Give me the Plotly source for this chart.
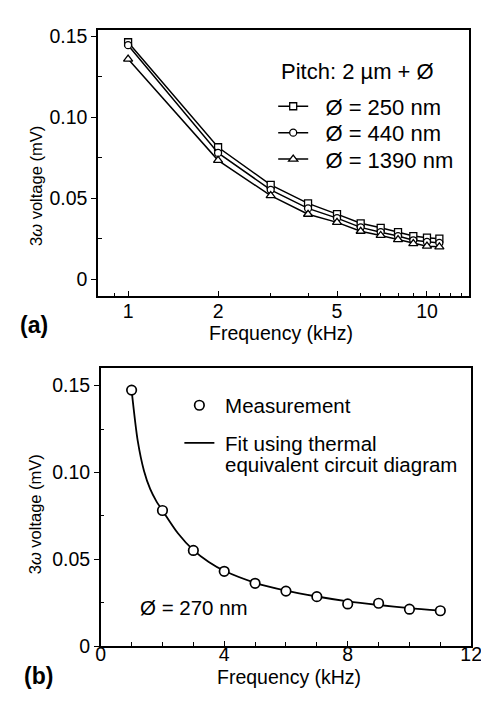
import plotly.graph_objects as go

# ---------------- data ----------------
freq = [1, 2, 3, 4, 5, 6, 7, 8, 9, 10, 11]
v_250 = [0.1464, 0.0815, 0.0583, 0.0468, 0.0402, 0.0345, 0.0317, 0.0290, 0.0266, 0.0256, 0.0250]
v_440 = [0.1446, 0.0780, 0.0552, 0.0437, 0.0377, 0.0320, 0.0290, 0.0266, 0.0240, 0.0230, 0.0224]
v_1390 = [0.1360, 0.0734, 0.0516, 0.0401, 0.0351, 0.0296, 0.0270, 0.0244, 0.0220, 0.0204, 0.0200]

meas_freq = [1, 2, 3, 4, 5, 6, 7, 8, 9, 10, 11]
meas_v = [0.1474, 0.0781, 0.0551, 0.0431, 0.0362, 0.0317, 0.0285, 0.0243, 0.0247, 0.0213, 0.0204]

fit_freq = [1.0, 1.2, 1.4, 1.6, 1.8, 2.0, 2.5, 3.0, 3.5, 4.0, 5.0, 6.0, 7.0, 8.0, 9.0, 10.0, 11.0]
fit_v = [0.1474, 0.1180, 0.1010, 0.0905, 0.0835, 0.0781, 0.0650, 0.0553, 0.0485, 0.0434,
         0.0365, 0.0320, 0.0286, 0.0258, 0.0237, 0.0219, 0.0205]

series_names = ["Ø = 250 nm", "Ø = 440 nm", "Ø = 1390 nm"]
top_xticks = [1, 2, 5, 10]
top_xticktext = ["1", "2", "5", "10"]
top_xminor = [0.9, 3, 4, 6, 7, 8, 9, 11, 12, 13]
y_ticks = [0, 0.05, 0.10, 0.15]
y_ticktext = ["0", "0.05", "0.10", "0.15"]
y_minor = [0.025, 0.075, 0.125]
bot_xticks = [0, 4, 8, 12]
bot_xminor = [1, 2, 3, 5, 6, 7, 9, 10, 11]

# ---------------- geometry ----------------
W, H = 489, 703
F = "Liberation Sans, Arial, Helvetica, sans-serif"
def px_x(p): return p / W
def px_y(p): return 1 - p / H

fig = go.Figure()

symbols = ["square", "circle", "triangle-up"]
sizes = [7, 7, 8]
top_legends = ["legend", "legend3", "legend4"]
for name, vals, sym, sz, lg in zip(series_names, [v_250, v_440, v_1390], symbols, sizes, top_legends):
    fig.add_trace(go.Scatter(
        x=freq, y=vals, mode="lines+markers", name="\u00a0\u00a0" + name,
        line=dict(color="black", width=1.5),
        marker=dict(symbol=sym, size=sz, color="white", line=dict(color="black", width=1.3)),
        xaxis="x", yaxis="y", legend=lg))

fig.add_trace(go.Scatter(
    x=fit_freq, y=fit_v, mode="lines", name="\u00a0Fit using thermal",
    line=dict(color="black", width=1.8, shape="spline", smoothing=0.8),
    xaxis="x2", yaxis="y2", legend="legend5"))
fig.add_trace(go.Scatter(
    x=meas_freq, y=meas_v, mode="markers", name="\u00a0Measurement",
    marker=dict(symbol="circle", size=9.5, color="white", line=dict(color="black", width=1.7)),
    xaxis="x2", yaxis="y2", legend="legend2"))

tickfont = dict(family=F, size=19.5, color="black")
base = dict(showgrid=False, zeroline=False, tickcolor="black", tickfont=tickfont)

top_xdom = [px_x(88), px_x(471)]
top_ydom = [px_y(290), px_y(18)]
bot_xdom = [px_x(90.7), px_x(473.7)]
bot_ydom = [px_y(648), px_y(364)]

top_xrange = [-0.1003, 1.1392]
top_yrange = [-0.0103, 0.1542]
bot_xrange = [0, 12]
bot_yrange = [0, 0.16]

def legend_at(xc, yc, size):
    # marker centre sits 20 px right of the legend's left edge
    return dict(x=px_x(xc - 20), y=px_y(yc), xanchor="left", yanchor="middle",
                bgcolor="rgba(0,0,0,0)", borderwidth=0, itemwidth=30,
                font=dict(family=F, size=size, color="black"))

fig.update_layout(
    width=W, height=H, margin=dict(l=0, r=0, t=0, b=0),
    paper_bgcolor="white", plot_bgcolor="white",
    font=dict(family=F, color="black"),
    xaxis=dict(**base, domain=top_xdom, anchor="y", type="log", range=top_xrange,
               tickvals=top_xticks, ticktext=top_xticktext, ticks="inside", ticklen=5, tickwidth=1.2,
               ticklabelstandoff=-3,
               minor=dict(tickvals=top_xminor, ticks="inside", ticklen=3, tickwidth=1, tickcolor="black"),
               showline=True, linecolor="black", linewidth=1.5, mirror=True),
    yaxis=dict(**base, domain=top_ydom, anchor="x", range=top_yrange,
               tickvals=y_ticks, ticktext=y_ticktext, ticks="outside", ticklen=5, tickwidth=1.2,
               minor=dict(tickvals=y_minor, ticks="inside", ticklen=4, tickwidth=1, tickcolor="black"),
               showline=True, linecolor="black", linewidth=1.5, mirror=True),
    xaxis3=dict(**base, overlaying="x", anchor="y", side="top", type="log", range=top_xrange,
                tickvals=top_xticks, showticklabels=False, ticks="inside", ticklen=5, tickwidth=1.2,
                minor=dict(tickvals=top_xminor, ticks="inside", ticklen=3, tickwidth=1, tickcolor="black"),
                showline=False),
    yaxis3=dict(**base, overlaying="y", anchor="x", side="right", range=top_yrange,
                tickvals=y_ticks, showticklabels=False, ticks="inside", ticklen=5, tickwidth=1.2,
                minor=dict(tickvals=y_minor, ticks="inside", ticklen=4, tickwidth=1, tickcolor="black"),
                showline=False),
    xaxis2=dict(**base, domain=bot_xdom, anchor="y2", range=bot_xrange,
                tickvals=bot_xticks, ticks="inside", ticklen=5, tickwidth=1.2,
                ticklabelstandoff=-10,
                minor=dict(tickvals=bot_xminor, ticks="inside", ticklen=4, tickwidth=1, tickcolor="black"),
                showline=True, linecolor="black", linewidth=1.5, mirror=True),
    yaxis2=dict(**base, domain=bot_ydom, anchor="x2", range=bot_yrange,
                tickvals=y_ticks, ticktext=y_ticktext, ticks="outside", ticklen=5, tickwidth=1.2,
                minor=dict(tickvals=y_minor, ticks="inside", ticklen=4, tickwidth=1, tickcolor="black"),
                showline=True, linecolor="black", linewidth=1.5, mirror=True),
    xaxis4=dict(**base, overlaying="x2", anchor="y2", side="top", range=bot_xrange,
                tickvals=bot_xticks, showticklabels=False, ticks="inside", ticklen=5, tickwidth=1.2,
                minor=dict(tickvals=bot_xminor, ticks="inside", ticklen=4, tickwidth=1, tickcolor="black"),
                showline=False),
    yaxis4=dict(**base, overlaying="y2", anchor="x2", side="right", range=bot_yrange,
                tickvals=y_ticks, showticklabels=False, ticks="inside", ticklen=5, tickwidth=1.2,
                minor=dict(tickvals=y_minor, ticks="inside", ticklen=4, tickwidth=1, tickcolor="black"),
                showline=False),
    legend=legend_at(289, 96.5, 22),
    legend3=legend_at(289, 123.5, 22),
    legend4=legend_at(289, 150.5, 22),
    legend2=legend_at(192, 402, 20.5),
    legend5=legend_at(192, 440.5, 20.5),
    showlegend=True,
)

ann = []
def add_text(text, x, y, size, xanchor="center", angle=0, bold=False):
    ann.append(dict(text=f"<b>{text}</b>" if bold else text, x=px_x(x), y=px_y(y),
                    xref="paper", yref="paper", xanchor=xanchor, yanchor="middle",
                    showarrow=False, textangle=angle,
                    font=dict(family=F, size=size, color="black")))

add_text("Pitch: 2 µm + Ø", 275, 61, 22, xanchor="left")
add_text("3<i>ω</i> voltage (mV)", 23, 177.5, 16.5, angle=-90)
add_text("3<i>ω</i> voltage (mV)", 23, 513, 16.5, angle=-90)
add_text("Frequency (kHz)", 277, 328, 19.5)
add_text("Frequency (kHz)", 285, 680, 19.5)
add_text("(a)", 22, 320, 23, bold=True)
add_text("(b)", 26, 678, 23, bold=True)
add_text("Ø = 270 nm", 129, 608, 20.5, xanchor="left")
add_text("equivalent circuit diagram", 217, 462, 20.5, xanchor="left")
fig.update_layout(annotations=ann)

fig.write_html("out.html")
